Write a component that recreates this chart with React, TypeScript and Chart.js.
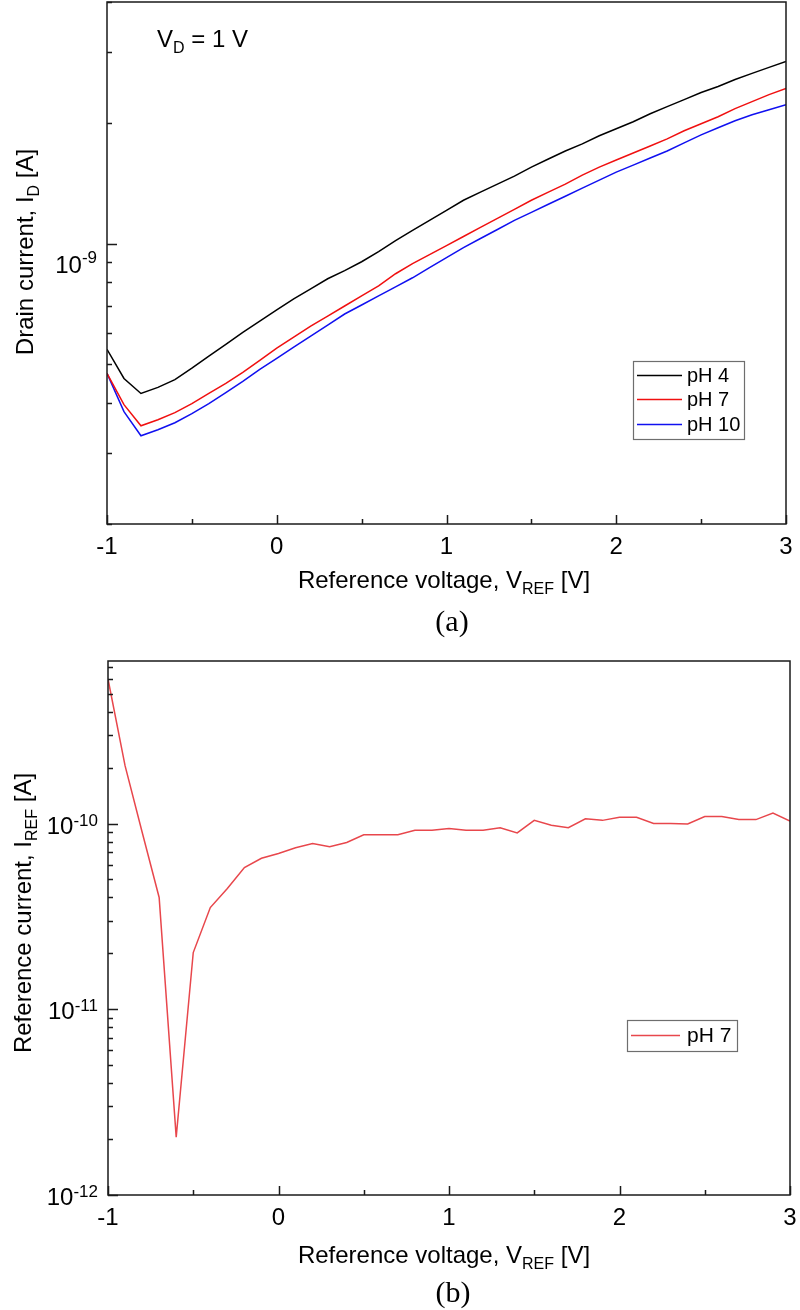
import React, { useEffect, useRef } from "react";
import { Chart, registerables } from "chart.js";

Chart.register(...registerables);

// ---------- data ----------
const VREF = [
  -1.0, -0.9, -0.8, -0.7, -0.6, -0.5, -0.4, -0.3, -0.2, -0.1,
  0.0, 0.1, 0.2, 0.3, 0.4, 0.5, 0.6, 0.7, 0.8, 0.9,
  1.0, 1.1, 1.2, 1.3, 1.4, 1.5, 1.6, 1.7, 1.8, 1.9,
  2.0, 2.1, 2.2, 2.3, 2.4, 2.5, 2.6, 2.7, 2.8, 2.9, 3.0,
];

const ID_PH4 = [
  5.45e-10, 4.61e-10, 4.23e-10, 4.38e-10, 4.58e-10, 4.89e-10, 5.24e-10, 5.61e-10, 6.01e-10, 6.41e-10,
  6.83e-10, 7.28e-10, 7.71e-10, 8.17e-10, 8.56e-10, 9.01e-10, 9.55e-10, 1.017e-9, 1.078e-9, 1.142e-9,
  1.21e-9, 1.282e-9, 1.343e-9, 1.406e-9, 1.473e-9, 1.551e-9, 1.625e-9, 1.701e-9, 1.772e-9, 1.856e-9,
  1.932e-9, 2.012e-9, 2.107e-9, 2.194e-9, 2.284e-9, 2.379e-9, 2.463e-9, 2.564e-9, 2.655e-9, 2.748e-9, 2.845e-9,
];

const ID_PH7 = [
  4.746e-10, 3.968e-10, 3.515e-10, 3.639e-10, 3.789e-10, 3.991e-10, 4.23e-10, 4.48e-10, 4.773e-10, 5.117e-10,
  5.484e-10, 5.844e-10, 6.227e-10, 6.597e-10, 6.989e-10, 7.405e-10, 7.845e-10, 8.409e-10, 8.909e-10, 9.384e-10,
  9.885e-10, 1.0413e-9, 1.0968e-9, 1.1554e-9, 1.217e-9, 1.282e-9, 1.343e-9, 1.406e-9, 1.481e-9, 1.551e-9,
  1.615e-9, 1.682e-9, 1.751e-9, 1.824e-9, 1.91e-9, 1.989e-9, 2.071e-9, 2.169e-9, 2.258e-9, 2.351e-9, 2.434e-9,
];

const ID_PH10 = [
  4.746e-10, 3.811e-10, 3.318e-10, 3.435e-10, 3.576e-10, 3.767e-10, 3.991e-10, 4.253e-10, 4.532e-10, 4.857e-10,
  5.176e-10, 5.516e-10, 5.877e-10, 6.263e-10, 6.674e-10, 7.03e-10, 7.405e-10, 7.8e-10, 8.217e-10, 8.705e-10,
  9.223e-10, 9.772e-10, 1.0293e-9, 1.0842e-9, 1.142e-9, 1.196e-9, 1.253e-9, 1.312e-9, 1.374e-9, 1.439e-9,
  1.507e-9, 1.569e-9, 1.634e-9, 1.701e-9, 1.782e-9, 1.866e-9, 1.943e-9, 2.024e-9, 2.095e-9, 2.156e-9, 2.219e-9,
];

const IREF_PH7 = [
  6.0e-10, 2.05e-10, 9.0e-11, 4.0e-11, 2.05e-12, 2.02e-11, 3.53e-11, 4.47e-11, 5.8e-11, 6.5e-11,
  6.9e-11, 7.4e-11, 7.8e-11, 7.5e-11, 7.9e-11, 8.7e-11, 8.7e-11, 8.7e-11, 9.2e-11, 9.2e-11,
  9.4e-11, 9.2e-11, 9.2e-11, 9.5e-11, 8.9e-11, 1.04e-10, 9.8e-11, 9.5e-11, 1.06e-10, 1.04e-10,
  1.08e-10, 1.08e-10, 1.0e-10, 1.0e-10, 9.95e-11, 1.09e-10, 1.09e-10, 1.05e-10, 1.05e-10, 1.14e-10, 1.03e-10,
];

const X_MAJOR = [-1, 0, 1, 2, 3];
const X_TICK_LABELS = ["-1", "0", "1", "2", "3"];
const X_MINOR = [-0.5, 0.5, 1.5, 2.5];
const A_Y_MAJOR_EXP = [-9];
const B_Y_MAJOR_EXP = [-12, -11, -10];
const A_SERIES_LABELS = ["pH 4", "pH 7", "pH 10"];
const B_SERIES_LABELS = ["pH 7"];

// ---------- drawing helpers ----------
const SANS = '"Liberation Sans", Arial, Helvetica, sans-serif';
const SERIF = '"Liberation Serif", "Times New Roman", Times, serif';

type Part = { t: string; k?: "sub" | "sup" };

function drawRich(
  ctx: CanvasRenderingContext2D,
  parts: Part[],
  x: number,
  y: number,
  size: number,
  small: number,
  align: "left" | "center" | "right",
  subOff: number,
  supOff: number
) {
  let w = 0;
  for (const p of parts) {
    ctx.font = `${p.k ? small : size}px ${SANS}`;
    w += ctx.measureText(p.t).width;
  }
  let cx = align === "center" ? x - w / 2 : align === "right" ? x - w : x;
  ctx.textAlign = "left";
  ctx.textBaseline = "alphabetic";
  for (const p of parts) {
    ctx.font = `${p.k ? small : size}px ${SANS}`;
    const dy = p.k === "sub" ? subOff : p.k === "sup" ? -supOff : 0;
    ctx.fillText(p.t, cx, y + dy);
    cx += ctx.measureText(p.t).width;
  }
}

type Spec = {
  id: string;
  yExps: number[];
  yLabelRight: number;
  yLabelDrop: number;
  supRaise: number;
  xLabelBaseline: number;
  xTitle: Part[];
  xTitleX: number;
  xTitleY: number;
  yTitle: Part[];
  yTitleX: number;
  yTitleY: number;
  caption: string;
  captionX: number;
  captionY: number;
  legendBox: [number, number, number, number];
  legendItems: { label: string; color: string; y: number }[];
  legendLineX: [number, number];
  legendTextX: number;
  legendFont: number;
  note?: { parts: Part[]; x: number; y: number };
};

function decorPlugin(spec: Spec) {
  return {
    id: "decor_" + spec.id,
    afterDatasetsDraw(chart: any) {
      const ctx: CanvasRenderingContext2D = chart.ctx;
      const a = chart.chartArea;
      const xs = chart.scales.x;
      const ys = chart.scales.y;
      ctx.save();
      ctx.fillStyle = "#000";
      ctx.strokeStyle = "#1a1a1a";
      ctx.lineWidth = 1.5;
      // frame
      ctx.strokeRect(a.left, a.top, a.right - a.left, a.bottom - a.top);

      // x ticks (inward)
      ctx.beginPath();
      X_MAJOR.forEach((v) => {
        const px = Math.round(xs.getPixelForValue(v)) + 0.5;
        ctx.moveTo(px, a.bottom);
        ctx.lineTo(px, a.bottom - 9);
      });
      X_MINOR.forEach((v) => {
        const px = Math.round(xs.getPixelForValue(v)) + 0.5;
        ctx.moveTo(px, a.bottom);
        ctx.lineTo(px, a.bottom - 5);
      });
      // y ticks (inward)
      const minV = ys.min;
      const maxV = ys.max;
      const e0 = Math.floor(Math.log10(minV));
      const e1 = Math.ceil(Math.log10(maxV));
      for (let e = e0; e <= e1; e++) {
        for (let m = 1; m <= 9; m++) {
          const v = m * Math.pow(10, e);
          if (v < minV * 0.999 || v > maxV * 1.001) continue;
          const py = Math.round(ys.getPixelForValue(v)) + 0.5;
          ctx.moveTo(a.left, py);
          ctx.lineTo(a.left + (m === 1 ? 10 : 5), py);
        }
      }
      ctx.stroke();

      // x tick labels
      ctx.font = `24px ${SANS}`;
      ctx.textAlign = "center";
      ctx.textBaseline = "alphabetic";
      X_MAJOR.forEach((v, i) => {
        const px = xs.getPixelForValue(v);
        ctx.fillText(X_TICK_LABELS[i], px, spec.xLabelBaseline);
      });

      // y tick labels 10^n
      spec.yExps.forEach((e) => {
        const py = ys.getPixelForValue(Math.pow(10, e));
        drawRich(ctx, [{ t: "10" }, { t: String(e), k: "sup" }], spec.yLabelRight, py + spec.yLabelDrop, 24, 17, "right", 6, spec.supRaise);
      });

      // x title
      drawRich(ctx, spec.xTitle, spec.xTitleX, spec.xTitleY, 24, 16, "center", 6, 8);

      // y title (rotated)
      ctx.save();
      ctx.translate(spec.yTitleX, spec.yTitleY);
      ctx.rotate(-Math.PI / 2);
      drawRich(ctx, spec.yTitle, 0, 0, 24, 16, "center", 6, 8);
      ctx.restore();

      // note
      if (spec.note) {
        drawRich(ctx, spec.note.parts, spec.note.x, spec.note.y, 24, 16, "left", 6, 8);
      }

      // legend
      const [bx0, by0, bx1, by1] = spec.legendBox;
      ctx.fillStyle = "#fff";
      ctx.fillRect(bx0, by0, bx1 - bx0, by1 - by0);
      ctx.strokeStyle = "#6e6e6e";
      ctx.lineWidth = 1.2;
      ctx.strokeRect(bx0 + 0.5, by0 + 0.5, bx1 - bx0, by1 - by0);
      spec.legendItems.forEach((it) => {
        ctx.strokeStyle = it.color;
        ctx.lineWidth = 1.5;
        ctx.beginPath();
        ctx.moveTo(spec.legendLineX[0], it.y + 0.5);
        ctx.lineTo(spec.legendLineX[1], it.y + 0.5);
        ctx.stroke();
        ctx.fillStyle = "#000";
        ctx.font = `${spec.legendFont}px ${SANS}`;
        ctx.textAlign = "left";
        ctx.textBaseline = "middle";
        ctx.fillText(it.label, spec.legendTextX, it.y + 1);
      });

      // caption
      ctx.fillStyle = "#000";
      ctx.font = `30px ${SERIF}`;
      ctx.textAlign = "center";
      ctx.textBaseline = "alphabetic";
      ctx.fillText(spec.caption, spec.captionX, spec.captionY);

      ctx.restore();
    },
  };
}

const COLOR_PH4 = "#000000";
const COLOR_PH7 = "#f01010";
const COLOR_PH10 = "#1010f0";
const COLOR_B = "#e8474c";

const specA: Spec = {
  id: "a",
  yExps: A_Y_MAJOR_EXP,
  yLabelRight: 97,
  yLabelDrop: 29,
  supRaise: 10,
  xLabelBaseline: 554,
  xTitle: [{ t: "Reference voltage, V" }, { t: "REF", k: "sub" }, { t: " [V]" }],
  xTitleX: 444,
  xTitleY: 588,
  yTitle: [{ t: "Drain current, I" }, { t: "D", k: "sub" }, { t: " [A]" }],
  yTitleX: 33,
  yTitleY: 252,
  caption: "(a)",
  captionX: 452,
  captionY: 631,
  legendBox: [633, 361, 744, 439],
  legendItems: [
    { label: A_SERIES_LABELS[0], color: COLOR_PH4, y: 375 },
    { label: A_SERIES_LABELS[1], color: COLOR_PH7, y: 399 },
    { label: A_SERIES_LABELS[2], color: COLOR_PH10, y: 424 },
  ],
  legendLineX: [637, 682],
  legendTextX: 687,
  legendFont: 20,
  note: { parts: [{ t: "V" }, { t: "D", k: "sub" }, { t: " = 1 V" }], x: 157, y: 47 },
};

const specB: Spec = {
  id: "b",
  yExps: B_Y_MAJOR_EXP,
  yLabelRight: 98,
  yLabelDrop: 10,
  supRaise: 8,
  xLabelBaseline: 580,
  xTitle: [{ t: "Reference voltage, V" }, { t: "REF", k: "sub" }, { t: " [V]" }],
  xTitleX: 444,
  xTitleY: 618,
  yTitle: [{ t: "Reference current, I" }, { t: "REF", k: "sub" }, { t: " [A]" }],
  yTitleX: 31,
  yTitleY: 268,
  caption: "(b)",
  captionX: 453,
  captionY: 657,
  legendBox: [627, 375, 737, 406],
  legendItems: [{ label: B_SERIES_LABELS[0], color: COLOR_B, y: 390 }],
  legendLineX: [631, 680],
  legendTextX: 687,
  legendFont: 21,
};

function pts(ys: number[]) {
  return VREF.map((v, i) => ({ x: v, y: ys[i] }));
}

function lineDs(label: string, ys: number[], color: string) {
  return {
    label,
    data: pts(ys),
    borderColor: color,
    backgroundColor: color,
    borderWidth: 1.5,
    pointRadius: 0,
    tension: 0,
    fill: false,
  };
}

function baseOptions(pad: any, yMin: number, yMax: number) {
  return {
    responsive: false,
    maintainAspectRatio: false,
    animation: false,
    devicePixelRatio: 1,
    events: [],
    layout: { padding: pad },
    scales: {
      x: { type: "linear", min: -1, max: 3, display: false },
      y: { type: "logarithmic", min: yMin, max: yMax, display: false },
    },
    plugins: { legend: { display: false }, tooltip: { enabled: false }, title: { display: false } },
  };
}

export default function App() {
  const refA = useRef<HTMLCanvasElement>(null);
  const refB = useRef<HTMLCanvasElement>(null);

  useEffect(() => {
    const ca = new Chart(refA.current as HTMLCanvasElement, {
      type: "line",
      data: {
        datasets: [
          lineDs(A_SERIES_LABELS[0], ID_PH4, COLOR_PH4),
          lineDs(A_SERIES_LABELS[1], ID_PH7, COLOR_PH7),
          lineDs(A_SERIES_LABELS[2], ID_PH10, COLOR_PH10),
        ],
      },
      options: baseOptions({ left: 107, top: 2, right: 14, bottom: 121 }, 2e-10, 4e-9) as any,
      plugins: [decorPlugin(specA)],
    } as any);
    const cb = new Chart(refB.current as HTMLCanvasElement, {
      type: "line",
      data: {
        datasets: [lineDs(B_SERIES_LABELS[0], IREF_PH7, COLOR_B)],
      },
      options: baseOptions({ left: 108, top: 16, right: 10, bottom: 115 }, 1e-12, 7.5e-10) as any,
      plugins: [decorPlugin(specB)],
    } as any);
    return () => {
      ca.destroy();
      cb.destroy();
    };
  }, []);

  return (
    <div style={{ position: "absolute", left: 0, top: 0, width: 800, height: 1310, background: "#fff" }}>
      <canvas
        ref={refA}
        width={800}
        height={645}
        style={{ position: "absolute", left: 0, top: 0, width: 800, height: 645 }}
      />
      <canvas
        ref={refB}
        width={800}
        height={665}
        style={{ position: "absolute", left: 0, top: 645, width: 800, height: 665 }}
      />
    </div>
  );
}
